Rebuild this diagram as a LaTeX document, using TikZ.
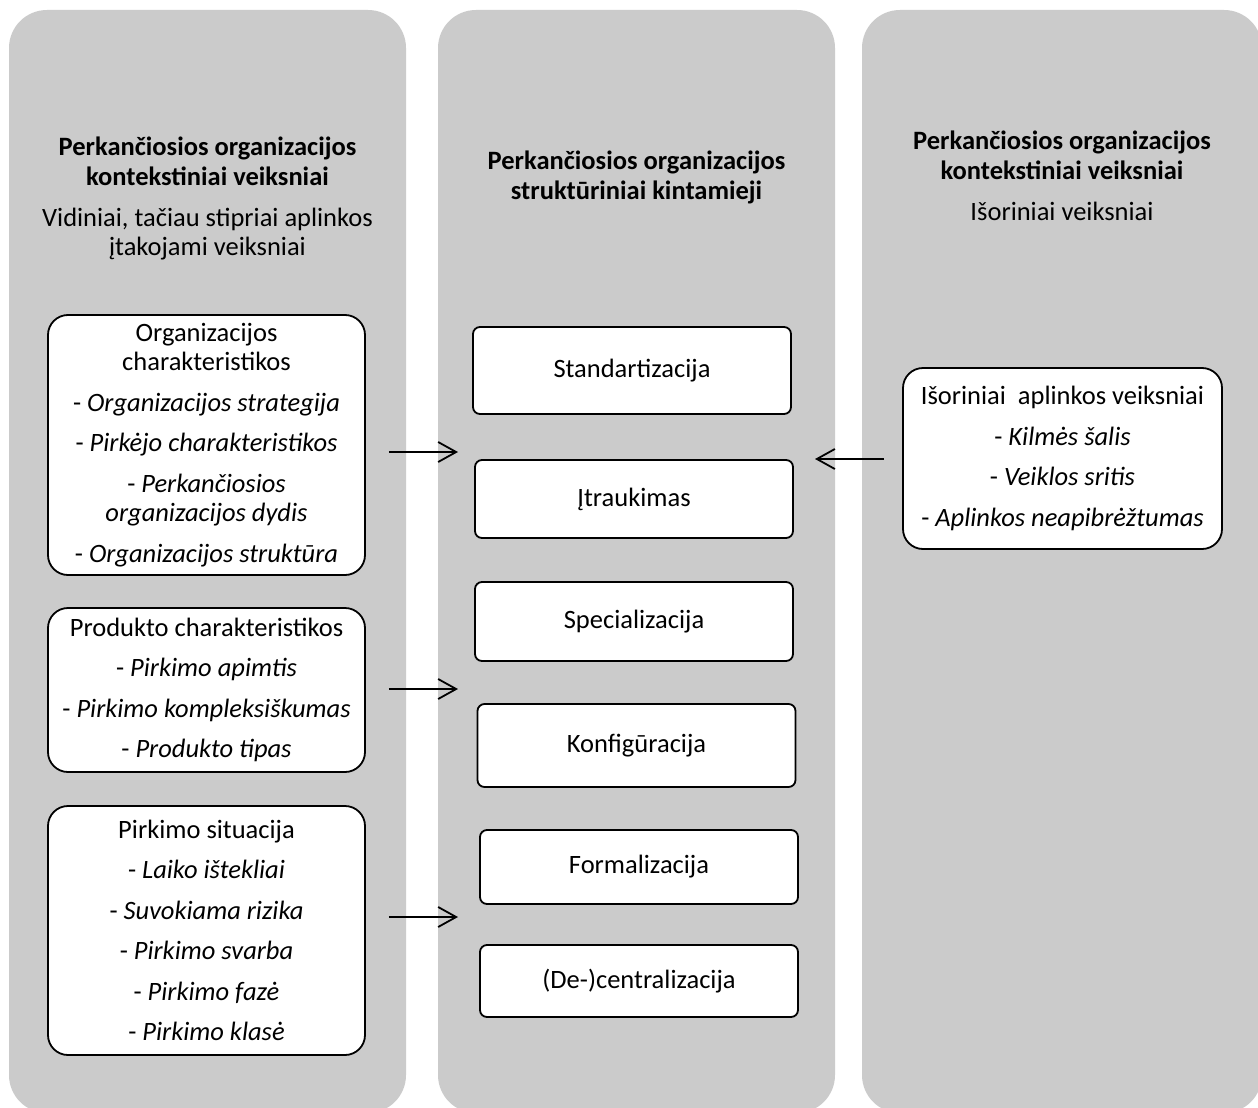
\documentclass[tikz,border=0pt]{standalone}
\usepackage{fontspec}
\setmainfont{Carlito}
\usepackage{xcolor}
\usepackage{tikz}
\usetikzlibrary{arrows.meta, positioning}

\definecolor{panelgray}{RGB}{203,203,203}

\begin{document}
\begin{tikzpicture}[x=1pt, y=-1pt,
    panel/.style={fill=panelgray, rounded corners=38pt},
    headtitle/.style={font=\fontsize{26.5}{30}\selectfont\bfseries, align=center},
    headsub/.style={font=\fontsize{26.5}{29.5}\selectfont, align=center},
    factorbox/.style={draw, line width=1.8pt, fill=white, rounded corners=20pt, align=center,
        minimum width=317pt, inner sep=0pt, font=\fontsize{26.5}{29.5}\selectfont},
    varbox/.style={draw, line width=1.8pt, fill=white, rounded corners=7pt, align=center,
        minimum width=318pt, inner sep=0pt, font=\fontsize{26.5}{29.5}\selectfont},
    conn/.style={line width=1.8pt, -{Straight Barb[length=18pt, width=20pt]}}]

    \clip (0,0) rectangle (1258,1108);
    \fill[white] (0,0) rectangle (1258,1108);

    % three columns
    \fill[panel] (9,10) rectangle (406,1113);
    \fill[panel] (438,10) rectangle (835,1113);
    \fill[panel] (862,10) rectangle (1262,1113);

    % headers
    \node[headtitle] (lefttitle) at (207.5,161.5) {Perkančiosios organizacijos\\kontekstiniai veiksniai};
    \node[headsub] (leftsub) at (207.5,234) {Vidiniai, tačiau stipriai aplinkos\\įtakojami veiksniai};
    \node[headtitle] (midtitle) at (636.5,177.5) {Perkančiosios organizacijos\\struktūriniai kintamieji};
    \node[headtitle] (righttitle) at (1062,155.5) {Perkančiosios organizacijos\\kontekstiniai veiksniai};
    \node[headsub, anchor=base] (rightsub) at (1062,220) {Išoriniai veiksniai};

    % left column
    \node[factorbox, minimum height=260pt] (orgchar) at (206.5,445) {Organizacijos\\charakteristikos\\[11pt]
        - \textit{Organizacijos strategija}\\[11pt]
        - \textit{Pirkėjo charakteristikos}\\[11pt]
        - \textit{Perkančiosios}\\\textit{organizacijos dydis}\\[11pt]
        - \textit{Organizacijos struktūra}};
    \node[factorbox, minimum height=164pt] (prodchar) at (206.5,690) {Produkto charakteristikos\\[11pt]
        - \textit{Pirkimo apimtis}\\[11pt]
        - \textit{Pirkimo kompleksiškumas}\\[11pt]
        - \textit{Produkto tipas}};
    \node[factorbox, minimum height=249pt] (buysit) at (206.5,930.5) {Pirkimo situacija\\[11pt]
        - \textit{Laiko ištekliai}\\[11pt]
        - \textit{Suvokiama rizika}\\[11pt]
        - \textit{Pirkimo svarba}\\[11pt]
        - \textit{Pirkimo fazė}\\[11pt]
        - \textit{Pirkimo klasė}};

    % middle column
    \node[varbox, minimum height=87pt] (stand) at (632,370.5) {Standartizacija};
    \node[varbox, minimum height=78pt] (involve) at (634,499) {Įtraukimas};
    \node[varbox, minimum height=79pt] (special) at (634,621.5) {Specializacija};
    \node[varbox, minimum height=83pt] (config) at (636.5,745.5) {Konfigūracija};
    \node[varbox, minimum height=74pt] (formal) at (639,867) {Formalizacija};
    \node[varbox, minimum height=72pt] (central) at (639,981) {(De-)centralizacija};

    % right column
    \node[factorbox, minimum width=319pt, minimum height=181pt] (extenv) at (1062.5,458.5) {Išoriniai~ aplinkos veiksniai\\[11pt]
        - \textit{Kilmės šalis}\\[11pt]
        - \textit{Veiklos sritis}\\[11pt]
        - \textit{Aplinkos neapibrėžtumas}};

    % arrows
    \coordinate (tipA) at (458,452);
    \coordinate (tipB) at (458,689);
    \coordinate (tipC) at (458,917);
    \coordinate (tipD) at (815,459);
    \draw[conn, shorten <=23pt] (orgchar.east |- tipA) -- (tipA);
    \draw[conn, shorten <=23pt] (prodchar.east |- tipB) -- (tipB);
    \draw[conn, shorten <=23pt] (buysit.east |- tipC) -- (tipC);
    \draw[conn, shorten <=18pt] (extenv.west |- tipD) -- (tipD);
\end{tikzpicture}
\end{document}
